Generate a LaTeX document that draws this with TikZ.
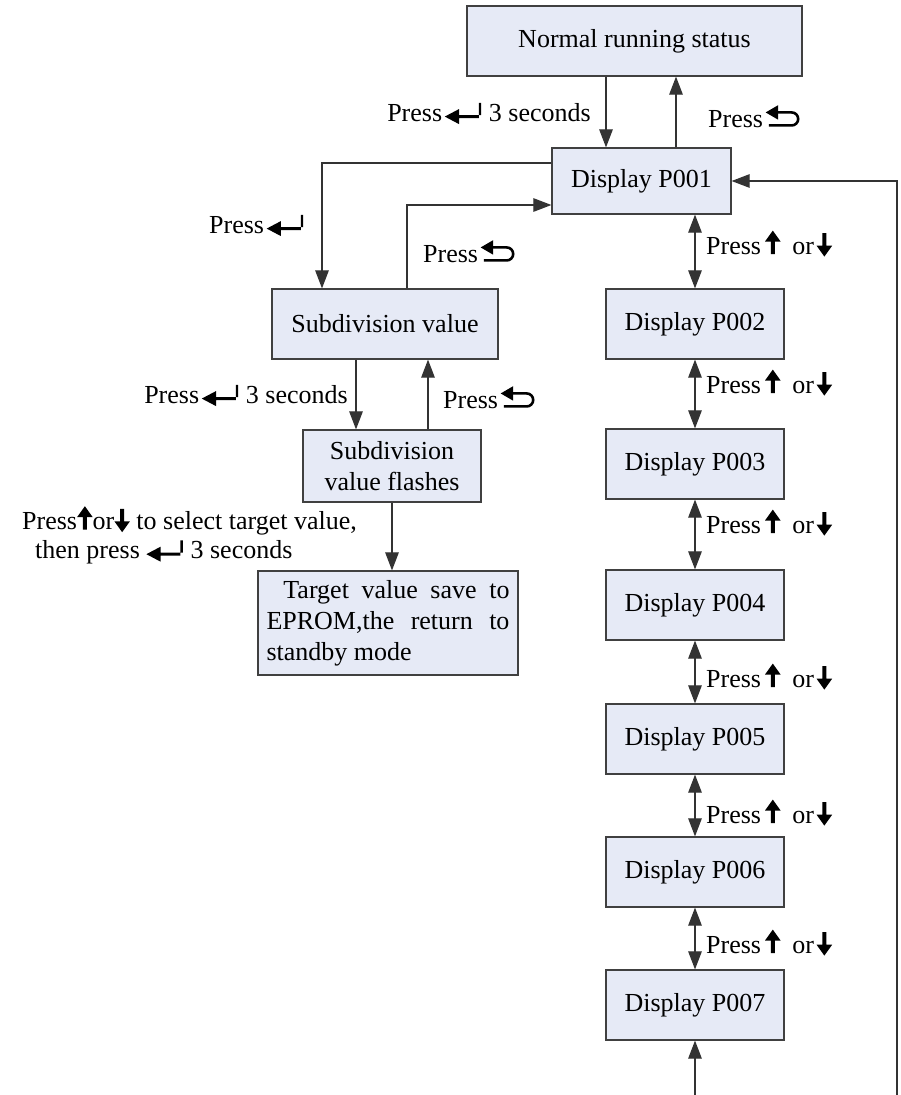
\documentclass[tikz,border=0pt]{standalone}
\usepackage{fontspec}
\setmainfont{Liberation Serif}
\usetikzlibrary{arrows.meta}
\definecolor{boxfill}{RGB}{230,234,246}

\newcommand{\enterkey}{\tikz[baseline=0pt,x=1em,y=1em]{\fill (0,0.17) -- (0.55,0.46) -- (0.55,0.23) -- (1.4,0.23) -- (1.4,0.7) -- (1.31,0.7) -- (1.31,0.11) -- (0.55,0.11) -- (0.55,-0.12) -- cycle;}}
\newcommand{\backkey}{\tikz[baseline=0pt,x=1em,y=1em]{\fill (0,0.56) -- (0.48,0.84) -- (0.48,0.28) -- cycle; \draw[line width=0.1em] (0.4,0.56) -- (1.0,0.56) arc[start angle=90,end angle=-90,radius=0.25] -- (0.12,0.06);}}
\newcommand{\upkey}{\tikz[baseline=0pt,x=1em,y=1em]{\fill (-0.075,0.0) -- (-0.075,0.48) -- (-0.3,0.48) -- (0,0.9) -- (0.3,0.48) -- (0.075,0.48) -- (0.075,0.0) -- cycle;}}
\newcommand{\downkey}{\tikz[baseline=0pt,x=1em,y=1em]{\fill (-0.075,0.8) -- (-0.075,0.32) -- (-0.3,0.32) -- (0,-0.1) -- (0.3,0.32) -- (0.075,0.32) -- (0.075,0.8) -- cycle;}}

\begin{document}
\begin{tikzpicture}[x=1pt, y=-1pt, font=\fontsize{26}{31}\selectfont,
    >={Triangle[length=18pt,width=13.5pt]},
    state/.style={draw=black!75, fill=boxfill, line width=1.2pt, inner sep=0pt},
    hint/.style={inner sep=0pt, anchor=base west},
    line/.style={draw=black!80, line width=1.1pt}]
\useasboundingbox (0,0) rectangle (901,1095);

\node[state, minimum width=335, minimum height=70] (norm) at (634.5,41) {Normal running status};
\node[state, minimum width=179, minimum height=66] (p1) at (641.5,181) {Display P001};
\node[state, minimum width=226, minimum height=70] (subv) at (385,324) {Subdivision value};
\node[state, minimum width=178, minimum height=72, align=center] (flash) at (392,466) {Subdivision\\value flashes};
\node[state, minimum width=260, minimum height=104, text width=243, align=justify] (target) at (388,623)
    {\hspace*{0.65em}Target value save to EPROM,the return to standby mode};
\foreach \n/\y in {2/324,3/464,4/605,5/739,6/872,7/1005}
    \node[state, minimum width=178, minimum height=70] (p\n) at (695,\y) {Display P00\n};

\coordinate (in1) at (606,0);
\coordinate (out1) at (676,0);
\draw[line,->] (norm.south -| in1) -- (p1.north -| in1);
\draw[line,->] (p1.north -| out1) -- (norm.south -| out1);
\coordinate (enter) at (322,163);
\draw[line,->] (p1.west |- enter) -- (enter) -- (enter |- subv.north);
\coordinate (back) at (407,205);
\draw[line,->] (back |- subv.north) -- (back) -- (back -| p1.west);
\coordinate (in2) at (356,0);
\coordinate (out2) at (428,0);
\draw[line,->] (subv.south -| in2) -- (flash.north -| in2);
\draw[line,->] (flash.north -| out2) -- (subv.south -| out2);
\draw[line,->] (flash.south) -- (flash.south |- target.north);
\draw[line,<->] (p1.south -| p2.north) -- (p2.north);
\foreach \a/\b in {2/3,3/4,4/5,5/6,6/7}
    \draw[line,<->] (p\a.south) -- (p\b.north);
\coordinate (loop) at (897,1095);
\draw[line,->] (loop) |- (p1.east);
\draw[line,->] (p7.south |- loop) -- (p7.south);

\node[hint, anchor=base east] (k1) at (591,121) {Press\kern0.1em\enterkey\kern0.3em 3 seconds};
\node[hint] (k2) at (708,127) {Press\kern0.1em\backkey};
\node[hint] (k3) at (209,233) {Press\kern0.1em\enterkey};
\node[hint] (k4) at (423,262) {Press\kern0.1em\backkey};
\node[hint, anchor=base east] (k5) at (348,403) {Press\kern0.1em\enterkey\kern0.3em 3 seconds};
\node[hint] (k6) at (443,408) {Press\kern0.1em\backkey};
\node[hint, anchor=north west, align=left, font=\fontsize{26}{29}\selectfont] (k7) at (22,506)
    {Press\upkey or\downkey{} to select target value,\\\hspace*{0.5em}then press \enterkey\kern0.3em 3 seconds};
\foreach \y in {254,393,533,687,823,953}
    \node[hint] (ud\y) at (706,\y) {Press\kern0.15em\upkey\hspace{0.45em}or\kern0.1em\downkey};
\end{tikzpicture}
\end{document}
